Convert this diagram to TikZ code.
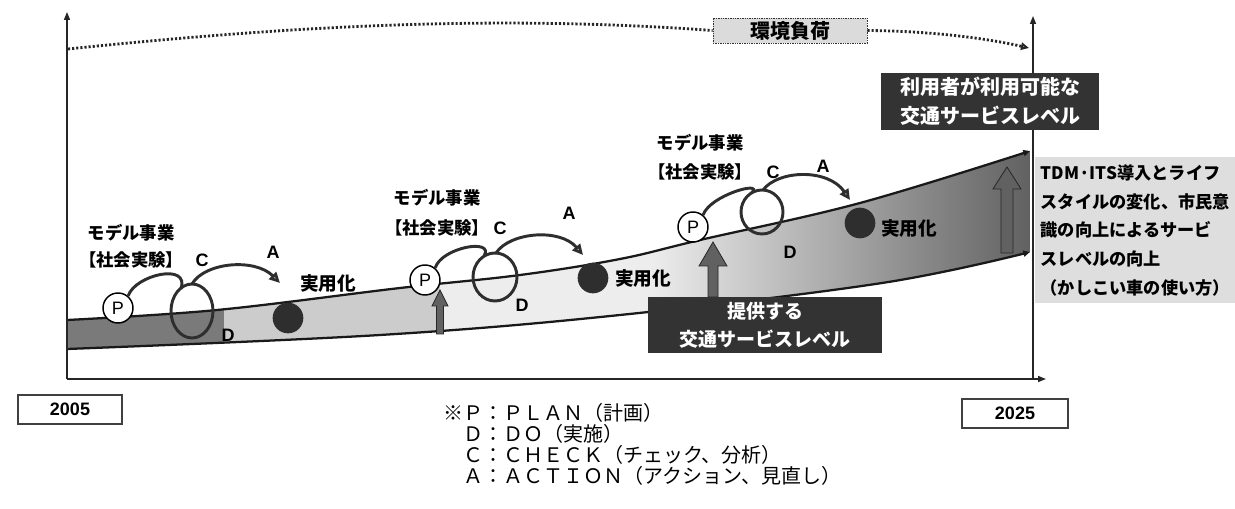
\documentclass[tikz,border=0pt]{standalone}
\usepackage{fontspec}
\setmainfont{Liberation Sans}
\newfontfamily\jp{Noto Sans CJK JP}
\usetikzlibrary{arrows.meta}
\begin{document}
\begin{tikzpicture}[x=0.75pt,y=-0.75pt,
  axisline/.style={line width=1.1pt, draw=black!85, -{Triangle[length=6pt,width=4.5pt]}},
  bandline/.style={line width=1.7pt, draw=black!90, -{Triangle[length=5pt,width=4.5pt]}},
  envline/.style={line width=2.1pt, draw=black!85, dash pattern=on 1.6pt off 1.5pt},
  envbox/.style={draw=black!80, line width=0.6pt, dash pattern=on 1pt off 0.8pt, fill=black!14, minimum width=115.5pt, minimum height=18.75pt, inner sep=0, font=\jp\bfseries\fontsize{15}{15}\selectfont},
  darkbox/.style={fill=black!80, text=white, align=center, inner sep=0},
  cyc/.style={line width=2.2pt, draw=black!82},
  tipA/.style={-{Triangle[length=8pt,width=7.5pt,fill=black!30]}},
  pcirc/.style={circle, draw=black, line width=1.1pt, fill=white, minimum size=22.5pt, inner sep=0, font=\fontsize{13.5}{13.5}\selectfont},
  dotc/.style={circle, fill=black!82, minimum size=23pt, inner sep=0},
  lbl/.style={font=\jp\bfseries\fontsize{13}{15}\selectfont, inner sep=0},
  ltr/.style={font=\bfseries\fontsize{13.5}{15}\selectfont, inner sep=0},
  blockarrow/.style={fill=black!62, draw=black!85, line width=0.6pt},
  yearbox/.style={draw=black!75, line width=0.8pt, fill=white, inner sep=0, font=\bfseries\fontsize{13.5}{15}\selectfont},
  legend/.style={anchor=west, inner sep=0, font=\jp\fontsize{15}{17}\selectfont},
  rtext/.style={anchor=north west, fill=black!13, minimum width=150pt, minimum height=109.5pt, align=left, inner xsep=1.5pt, inner ysep=0, font=\jp\bfseries\fontsize{12.9}{21.5}\selectfont}
]
\fill[white] (0,0) rectangle (1235,509);
\path[use as bounding box] (0,0) rectangle (1235,509);
\clip (0,0) rectangle (1235,509);

% band fill
\begin{scope}
\clip plot[smooth,tension=0.6] coordinates {(67,320) (217,310) (400,288) (520,275) (620,259) (700,240) (860,203) (1030,151)}
  -- plot[smooth,tension=0.6] coordinates {(1030,252) (882,283) (620,315) (380,335) (67,349)} -- cycle;
\fill[black!52] (60,100) rectangle (224,400);
\fill[black!20] (224,100) rectangle (440,400);
\fill[black!7] (440,100) rectangle (652,400);
\shade[left color=black!7, right color=black!62] (650,100) rectangle (1031,400);
\end{scope}

% band edges
\draw[bandline] plot[smooth,tension=0.6] coordinates {(67,320) (217,310) (400,288) (520,275) (620,259) (700,240) (860,203) (1030,151)};
\draw[bandline] plot[smooth,tension=0.6] coordinates {(67,349) (380,335) (620,315) (882,283) (1030,252)};

% block arrows
\filldraw[blockarrow] (436.5,334) -- (436.5,306) -- (432,306) -- (440,290) -- (448,306) -- (443.5,306) -- (443.5,334) -- cycle;
\filldraw[blockarrow] (708,297) -- (708,266) -- (699,266) -- (713,242) -- (727,266) -- (718,266) -- (718,297) -- cycle;
\filldraw[blockarrow] (1001,253) -- (1001,189) -- (993,189) -- (1007,167) -- (1021,189) -- (1013,189) -- (1013,253) -- cycle;

% axes
\coordinate (O) at (67,379);
\coordinate (ytop) at (67,12);
\coordinate (xend) at (1046,379);
\coordinate (rbot) at (1033,379);
\coordinate (rtop) at (1033,16);
\draw[axisline] (O) -- (ytop);
\draw[axisline] (O) -- (xend);
\draw[axisline] (rbot) -- (rtop);

% environmental load
\node[envbox] (env) at (790,30.5) {環境負荷};
\coordinate (envs) at (68,49);
\coordinate (enve) at (1029,48);
\draw[envline] (envs) .. controls (300,25) and (500,15) .. (env.west);
\draw[envline, -{Triangle[open,length=6pt,width=5.5pt]}] (env.east) .. controls (930,31) and (985,38) .. (enve);

% dark boxes
\node[darkbox, minimum width=163.5pt, minimum height=42.75pt, font=\jp\bfseries\fontsize{15}{21.75}\selectfont] (usr) at (990,101.5) {利用者が利用可能な\\交通サービスレベル};
\node[darkbox, minimum width=175.5pt, minimum height=42pt, font=\jp\bfseries\fontsize{14.25}{21}\selectfont] (prov) at (765,325) {提供する\\交通サービスレベル};

% group 1
\node[pcirc] (P1) at (118,308) {P};
\node[dotc] (J1) at (288,318) {};
\node[lbl] (m1) at (131,233) {モデル事業};
\node[lbl] (s1) at (131,260) {【社会実験】};
\node[ltr] (c1) at (202,260) {C};
\node[ltr] (a1) at (273,252) {A};
\node[ltr] (d1) at (228,335) {D};
\node[lbl, font=\jp\bfseries\fontsize{14}{15}\selectfont] (r1) at (328,283) {実用化};
\coordinate (L1) at (192,311);
\coordinate (t1) at (280,283);
\draw[cyc] (L1) ellipse [x radius=21, y radius=27];
\draw[cyc] (P1.50) .. controls (135,275) and (190,262) .. (181,289);
\draw[cyc, tipA] (192,284) .. controls (205,262) and (255,258) .. (t1);

% group 2
\node[pcirc] (P2) at (425,280) {P};
\node[dotc] (J2) at (593,278) {};
\node[lbl] (m2) at (437,198) {モデル事業};
\node[lbl] (s2) at (437,228) {【社会実験】};
\node[ltr] (c2) at (500,228) {C};
\node[ltr] (a2) at (569,213) {A};
\node[ltr] (d2) at (522,305) {D};
\node[lbl, font=\jp\bfseries\fontsize{14}{15}\selectfont] (r2) at (643,278) {実用化};
\coordinate (L2) at (495,277);
\coordinate (t2) at (583,255);
\draw[cyc] (L2) ellipse [x radius=22, y radius=24];
\draw[cyc] (P2.50) .. controls (442,247) and (495,238) .. (484,256);
\draw[cyc, tipA] (496,253) .. controls (510,232) and (560,228) .. (t2);

% group 3
\node[pcirc] (P3) at (693,227) {P};
\node[dotc] (J3) at (860,223) {};
\node[lbl] (m3) at (700,143) {モデル事業};
\node[lbl] (s3) at (700,172) {【社会実験】};
\node[ltr] (c3) at (773,172) {C};
\node[ltr] (a3) at (823,166) {A};
\node[ltr] (d3) at (790,252) {D};
\node[lbl, font=\jp\bfseries\fontsize{14}{15}\selectfont] (r3) at (909,228) {実用化};
\coordinate (L3) at (762,212);
\coordinate (t3) at (850,200);
\draw[cyc] (L3) ellipse [x radius=21, y radius=22];
\draw[cyc] (P3.50) .. controls (710,195) and (765,180) .. (751.5,193);
\draw[cyc, tipA] (763,190) .. controls (778,170) and (828,168) .. (t3);

% right text
\node[rtext] (tdm) at (1035,157) {TDM·ITS導入とライフ\\スタイルの変化、市民意\\識の向上によるサービ\\スレベルの向上\\（かしこい車の使い方）};

% years
\node[yearbox, minimum width=78pt, minimum height=21.75pt] (y05) at (70,409.5) {2005};
\node[yearbox, minimum width=79.5pt, minimum height=21.75pt] (y25) at (1015,413.5) {2025};

% legend
\node[legend] (l1) at (443,413) {※Ｐ：ＰＬＡＮ（計画）};
\node[legend] (l2) at (463,434) {Ｄ：ＤＯ（実施）};
\node[legend] (l3) at (463,455) {Ｃ：ＣＨＥＣＫ（チェック、分析）};
\node[legend] (l4) at (463,476) {Ａ：ＡＣＴＩＯＮ（アクション、見直し）};
\end{tikzpicture}
\end{document}
